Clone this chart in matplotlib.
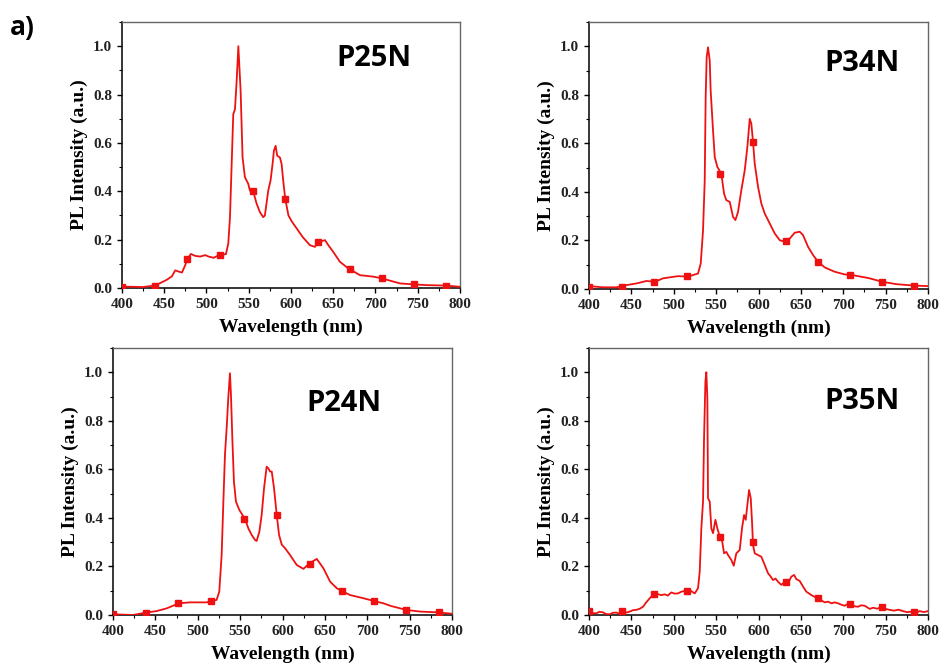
import matplotlib
matplotlib.use("Agg")
import matplotlib.pyplot as plt
from matplotlib.ticker import MultipleLocator

# spectra read as (wavelength nm, normalised PL intensity)
p25n_wl = [400, 425, 438, 445, 453, 459, 463, 467, 471, 475, 477, 481.5, 486.5, 492.5, 498.5, 502.5,
           508.5, 516, 523, 525.8, 527.8, 529.8, 531.7, 533.7, 535.7, 537.7, 538.8, 540.4, 542.7,
           545.5, 549.4, 551.4, 555.3, 559.3, 563.2, 567.1, 569.1, 573.1, 575.8, 578.2, 579.8,
           581.8, 583.7, 586.9, 588.9, 590.8, 593.2, 597, 601, 606, 614, 622.5, 628.4, 631.6,
           640.3, 644.2, 650.1, 658, 667.9, 681.7, 697.5, 707.3, 729, 745, 760, 784, 800]
p25n_int = [0.006, 0.004, 0.01, 0.02, 0.034, 0.048, 0.073, 0.068, 0.064, 0.096, 0.116, 0.141, 0.133,
            0.13, 0.136, 0.13, 0.125, 0.138, 0.14, 0.184, 0.293, 0.513, 0.719, 0.739, 0.856, 1.0,
            0.925, 0.815, 0.54, 0.458, 0.431, 0.403, 0.40, 0.349, 0.314, 0.293, 0.30, 0.403, 0.444,
            0.513, 0.568, 0.588, 0.547, 0.54, 0.513, 0.444, 0.369, 0.30, 0.275, 0.25, 0.21, 0.177,
            0.17, 0.189, 0.198, 0.177, 0.149, 0.108, 0.081, 0.053, 0.047, 0.04, 0.019, 0.015, 0.012,
            0.01, 0.005]

p34n_wl = [400, 416.5, 432, 444, 456, 467.6, 478, 487.3, 505, 516.8, 528.6, 531.8, 534.5, 536.5,
           537.6, 538.8, 540.4, 542.4, 543.5, 546.3, 548.3, 551.4, 556.1, 559.3, 562, 566, 569.9,
           572.7, 575.8, 579.7, 583.7, 586.8, 589.6, 591.5, 593.5, 595.5, 599.4, 603.3, 607.3,
           613.2, 619.1, 625, 630.9, 636.8, 642.7, 648.6, 652.5, 658.4, 664.3, 670.2, 678.1,
           689.9, 701.7, 709.5, 725.3, 731, 745.7, 762.6, 784, 800]
p34n_int = [0.012, 0.007, 0.007, 0.016, 0.023, 0.033, 0.03, 0.044, 0.053, 0.051, 0.064, 0.105,
            0.242, 0.448, 0.79, 0.955, 0.996, 0.941, 0.818, 0.653, 0.544, 0.503, 0.475, 0.393,
            0.366, 0.359, 0.297, 0.284, 0.318, 0.407, 0.489, 0.585, 0.701, 0.681, 0.605, 0.516,
            0.421, 0.352, 0.311, 0.27, 0.229, 0.201, 0.195, 0.208, 0.232, 0.236, 0.222, 0.174,
            0.14, 0.112, 0.089, 0.071, 0.06, 0.058, 0.048, 0.044, 0.03, 0.02, 0.014, 0.012]

p24n_wl = [400, 423.6, 438.6, 451.2, 463, 477.6, 490.6, 510.3, 516.2, 522.1, 525.3, 528.1, 530, 532,
           534, 535.9, 537.9, 539.1, 540.7, 542.6, 545, 548.9, 555.6, 559.6, 563.5, 567.5, 569.4,
           572.6, 575.3, 578.1, 581.2, 583.2, 585.2, 587.2, 589.9, 593.1, 595.8, 599, 602.9,
           608.8, 616.7, 624.6, 631.7, 640.3, 648.2, 656.1, 664, 669.9, 679.7, 695.5, 707.3,
           719.1, 727, 745.6, 762.5, 783, 800]
p24n_int = [0.003, 0.0, 0.01, 0.016, 0.027, 0.048, 0.052, 0.052, 0.058, 0.062, 0.096, 0.247, 0.453,
            0.659, 0.769, 0.893, 0.996, 0.907, 0.728, 0.549, 0.467, 0.433, 0.396, 0.357, 0.33,
            0.309, 0.305, 0.343, 0.412, 0.522, 0.611, 0.604, 0.591, 0.591, 0.522, 0.412, 0.33,
            0.29, 0.275, 0.247, 0.206, 0.19, 0.213, 0.231, 0.192, 0.137, 0.11, 0.099, 0.082,
            0.069, 0.058, 0.048, 0.038, 0.021, 0.014, 0.011, 0.005]

p35n_wl = [400, 404, 408.7, 412, 416.5, 420, 424.4, 428, 432.2, 436, 439.3, 444, 448, 452, 455.8,
           460, 463.7, 467, 471.6, 475, 479.4, 482, 485.3, 489.3, 493, 497.1, 501, 505, 509, 512.9,
           516, 518.8, 522, 524.7, 528.6, 530.6, 532.5, 534.5, 535.7, 537.3, 538.4, 539.6, 540.4,
           542.4, 544.3, 546.3, 549.1, 551.4, 554.2, 556.9, 559.3, 562, 564, 567.9, 570.7, 573.8,
           577.8, 580.5, 582.9, 584.9, 586.8, 588.8, 590.8, 592.3, 593.5, 595.5, 599.4, 603.3,
           607.3, 611.2, 614, 617.1, 620, 623, 626.9, 630.9, 633, 635.6, 638.7, 641.9, 644.6,
           648.6, 652.5, 656.4, 659, 662.3, 666, 670.2, 674, 678.1, 682, 686, 690, 693.8, 698,
           701.7, 705, 709.5, 713, 717.4, 721, 725.3, 731.2, 735, 740, 745.7, 750, 754.8, 760,
           765, 770.5, 775, 782.3, 786, 790, 795, 800]
p35n_int = [0.016, 0.008, 0.007, 0.013, 0.011, 0.004, 0.003, 0.009, 0.01, 0.005, 0.016, 0.01, 0.014,
            0.02, 0.021, 0.026, 0.034, 0.05, 0.069, 0.08, 0.089, 0.085, 0.082, 0.085, 0.08, 0.093,
            0.088, 0.089, 0.096, 0.099, 0.095, 0.103, 0.095, 0.089, 0.11, 0.179, 0.357, 0.467,
            0.728, 0.962, 1.0, 0.893, 0.481, 0.467, 0.357, 0.337, 0.392, 0.357, 0.323, 0.309,
            0.254, 0.26, 0.247, 0.227, 0.203, 0.254, 0.268, 0.357, 0.412, 0.392, 0.453, 0.515,
            0.481, 0.385, 0.288, 0.254, 0.247, 0.24, 0.206, 0.172, 0.16, 0.144, 0.15, 0.137,
            0.124, 0.137, 0.128, 0.137, 0.158, 0.165, 0.148, 0.14, 0.117, 0.096, 0.09, 0.082,
            0.075, 0.071, 0.06, 0.052, 0.055, 0.048, 0.052, 0.048, 0.042, 0.038, 0.045, 0.044,
            0.036, 0.034, 0.04, 0.038, 0.025, 0.03, 0.026, 0.034, 0.025, 0.021, 0.018, 0.022,
            0.016, 0.012, 0.014, 0.01, 0.016, 0.012, 0.016]

# square symbols every ~38 nm along each trace
marker_wl = [400, 438.5, 477, 516, 555, 593.5, 632, 670, 708, 746, 784]
p25n_mk = [0.005, 0.01, 0.118, 0.138, 0.40, 0.369, 0.189, 0.08, 0.04, 0.015, 0.01]
p34n_mk = [0.01, 0.01, 0.03, 0.053, 0.475, 0.605, 0.199, 0.112, 0.059, 0.03, 0.014]
p24n_mk = [0.003, 0.01, 0.048, 0.059, 0.396, 0.412, 0.212, 0.099, 0.059, 0.021, 0.011]
p35n_mk = [0.015, 0.015, 0.087, 0.10, 0.32, 0.30, 0.137, 0.071, 0.044, 0.034, 0.014]

samples = ["P25N", "P34N", "P24N", "P35N"]
label_pos = [(698, 0.95), (722, 0.93), (672, 0.87), (722, 0.88)]

serif = "Liberation Serif"
sans = ["Open Sans", "Liberation Sans", "DejaVu Sans"]


def draw_panel(ax, wl, inten, mk, name, pos):
    ax.plot(wl, inten, color="#ee1111", lw=1.3, zorder=3)
    ax.plot(marker_wl, mk, ls="none", marker="s", ms=4.5, color="#ee1111", zorder=4)
    ax.set_xlim(400, 800)
    ax.set_ylim(0, 1.1)
    ax.xaxis.set_major_locator(MultipleLocator(50))
    ax.xaxis.set_minor_locator(MultipleLocator(25))
    ax.yaxis.set_major_locator(MultipleLocator(0.2))
    ax.yaxis.set_minor_locator(MultipleLocator(0.1))
    ax.yaxis.set_major_formatter(plt.FuncFormatter(lambda v, p: "%.1f" % v))
    ax.tick_params(which="major", direction="out", length=3.5, width=1, pad=3.5)
    ax.tick_params(which="minor", direction="out", length=2, width=0.8)
    for lab in ax.get_xticklabels() + ax.get_yticklabels():
        lab.set_fontfamily(serif)
        lab.set_fontweight("bold")
        lab.set_fontsize(11)
        lab.set_color("#222222")
    for side in ["top", "right"]:
        ax.spines[side].set_color("#666666")
        ax.spines[side].set_linewidth(1.0)
    for side in ["left", "bottom"]:
        ax.spines[side].set_color("black")
        ax.spines[side].set_linewidth(1.1)
    ax.set_xlabel("Wavelength (nm)", family=serif, weight="bold", size=14, labelpad=6)
    ax.set_ylabel("PL Intensity (a.u.)", family=serif, weight="bold", size=14, labelpad=4)
    ax.text(pos[0], pos[1], name, family=sans, weight="bold", size=21,
            ha="center", va="center")


def main():
    fig = plt.figure(figsize=(9.42, 6.65), dpi=100)
    rects = [[0.1295, 0.5669, 0.3588, 0.4],
             [0.6253, 0.5654, 0.3599, 0.4015],
             [0.12, 0.0752, 0.36, 0.4015],
             [0.6253, 0.0752, 0.3599, 0.4015]]
    data = [(p25n_wl, p25n_int, p25n_mk), (p34n_wl, p34n_int, p34n_mk),
            (p24n_wl, p24n_int, p24n_mk), (p35n_wl, p35n_int, p35n_mk)]
    for r, (wl, inten, mk), name, pos in zip(rects, data, samples, label_pos):
        ax = fig.add_axes(r)
        draw_panel(ax, wl, inten, mk, name, pos)
    fig.text(0.01, 0.958, "a)", family=sans, weight="bold", size=19, ha="left", va="center")
    fig.savefig("out.png", dpi=100)


if __name__ == '__main__':
    main()
